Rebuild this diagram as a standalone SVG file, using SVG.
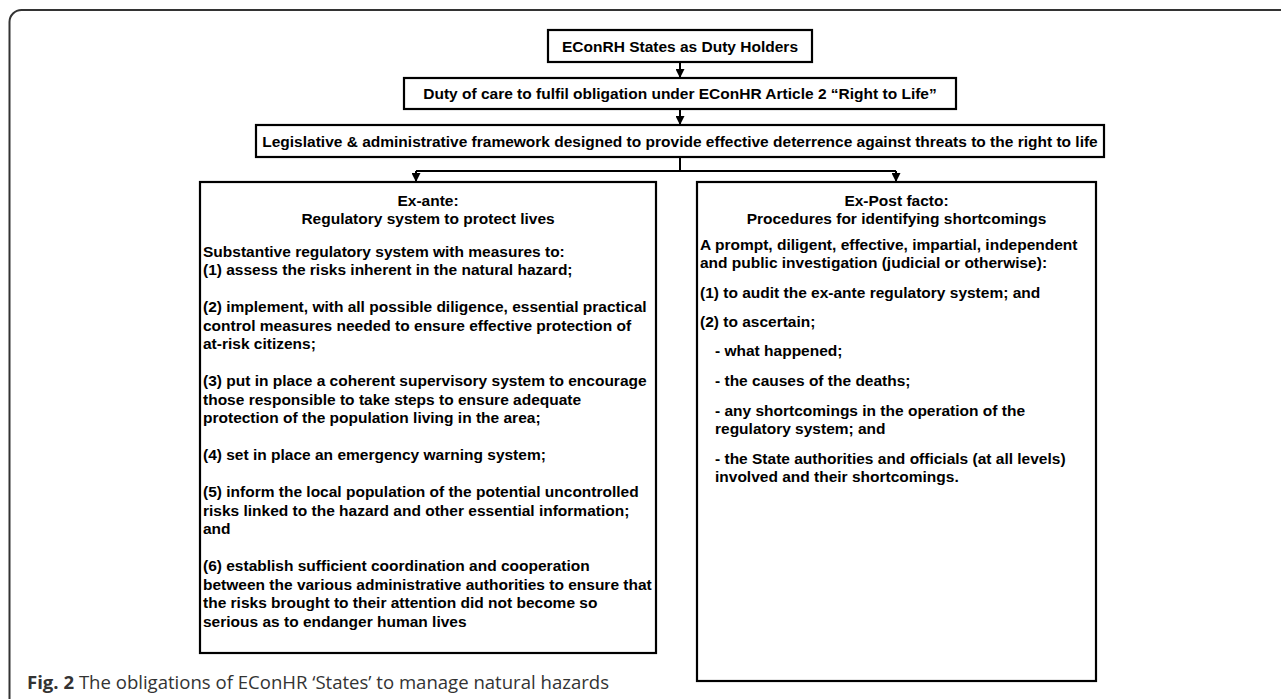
<svg xmlns="http://www.w3.org/2000/svg" width="1281" height="699" viewBox="0 0 1281 699">
<defs>
<style>
.box{fill:#fff;stroke:#000;stroke-width:2.2}
.t{font-family:"Liberation Sans",Arial,sans-serif;font-weight:bold;font-size:15.5px;fill:#000}
.c{text-anchor:middle}
.conn{fill:none;stroke:#000;stroke-width:2}
.cap{font-family:"Open Sans","Noto Sans",sans-serif;font-size:18px;fill:#333}
</style>
<marker id="ah" viewBox="0 0 10 10" refX="10" refY="5" markerWidth="9" markerHeight="9" markerUnits="userSpaceOnUse" orient="auto">
<path d="M0,0 L10,5 L0,10 z" fill="#000"/>
</marker>
</defs>
<rect width="1281" height="699" fill="#fff"/>
<path d="M9.5,699 V22 A12,12 0 0 1 21.5,10 H1281" fill="none" stroke="#333" stroke-width="2"/>

<g id="connectors">
<line class="conn" x1="680" y1="62" x2="680" y2="78" marker-end="url(#ah)"/>
<line class="conn" x1="680" y1="109" x2="680" y2="125" marker-end="url(#ah)"/>
<polyline class="conn" points="680,157 680,171"/>
<line class="conn" x1="416" y1="171" x2="896" y2="171"/>
<line class="conn" x1="416" y1="171" x2="416" y2="182" marker-end="url(#ah)"/>
<line class="conn" x1="896" y1="171" x2="896" y2="182" marker-end="url(#ah)"/>
</g>

<g id="n1">
<rect class="box" x="548" y="30" width="264" height="32" stroke-width="3"/>
<text class="t c" x="680" y="51.5">EConRH States as Duty Holders</text>
</g>
<g id="n2">
<rect class="box" x="404" y="78" width="552" height="31"/>
<text class="t c" x="680" y="99">Duty of care to fulfil obligation under EConHR Article 2 “Right to Life”</text>
</g>
<g id="n3">
<rect class="box" x="256" y="125" width="848" height="32"/>
<text class="t c" x="680" y="146.5">Legislative &amp; administrative framework designed to provide effective deterrence against threats to the right to life</text>
</g>

<g id="n4">
<rect class="box" x="200" y="182" width="456" height="471"/>
<text class="t c" x="428" y="205.5">Ex-ante:</text>
<text class="t c" x="428" y="224">Regulatory system to protect lives</text>
<text class="t" x="203" y="256.5">Substantive regulatory system with measures to:</text>
<text class="t" x="203" y="275">(1) assess the risks inherent in the natural hazard;</text>
<text class="t" x="203" y="312">(2) implement, with all possible diligence, essential practical</text>
<text class="t" x="203" y="330.5">control measures needed to ensure effective protection of</text>
<text class="t" x="203" y="349">at-risk citizens;</text>
<text class="t" x="203" y="386">(3) put in place a coherent supervisory system to encourage</text>
<text class="t" x="203" y="404.5">those responsible to take steps to ensure adequate</text>
<text class="t" x="203" y="423">protection of the population living in the area;</text>
<text class="t" x="203" y="460">(4) set in place an emergency warning system;</text>
<text class="t" x="203" y="497">(5) inform the local population of the potential uncontrolled</text>
<text class="t" x="203" y="515.5">risks linked to the hazard and other essential information;</text>
<text class="t" x="203" y="534">and</text>
<text class="t" x="203" y="571">(6) establish sufficient coordination and cooperation</text>
<text class="t" x="203" y="589.5">between the various administrative authorities to ensure that</text>
<text class="t" x="203" y="608">the risks brought to their attention did not become so</text>
<text class="t" x="203" y="626.5">serious as to endanger human lives</text>
</g>

<g id="n5">
<rect class="box" x="697" y="182" width="399" height="499"/>
<text class="t c" x="896.5" y="205.5">Ex-Post facto:</text>
<text class="t c" x="896.5" y="224">Procedures for identifying shortcomings</text>
<text class="t" x="700" y="249.5">A prompt, diligent, effective, impartial, independent</text>
<text class="t" x="700" y="267.5">and public investigation (judicial or otherwise):</text>
<text class="t" x="700" y="297.5">(1) to audit the ex-ante regulatory system; and</text>
<text class="t" x="700" y="326.5">(2) to ascertain;</text>
<text class="t" x="715" y="355.5">- what happened;</text>
<text class="t" x="715" y="385.5">- the causes of the deaths;</text>
<text class="t" x="715" y="415.5">- any shortcomings in the operation of the</text>
<text class="t" x="715" y="433.5">regulatory system; and</text>
<text class="t" x="715" y="463.5">- the State authorities and officials (at all levels)</text>
<text class="t" x="715" y="481.5">involved and their shortcomings.</text>
</g>

<g id="caption">
<text class="cap" x="27" y="689" textLength="582" lengthAdjust="spacingAndGlyphs"><tspan font-weight="bold">Fig. 2</tspan> The obligations of EConHR ‘States’ to manage natural hazards</text>
</g>
</svg>
